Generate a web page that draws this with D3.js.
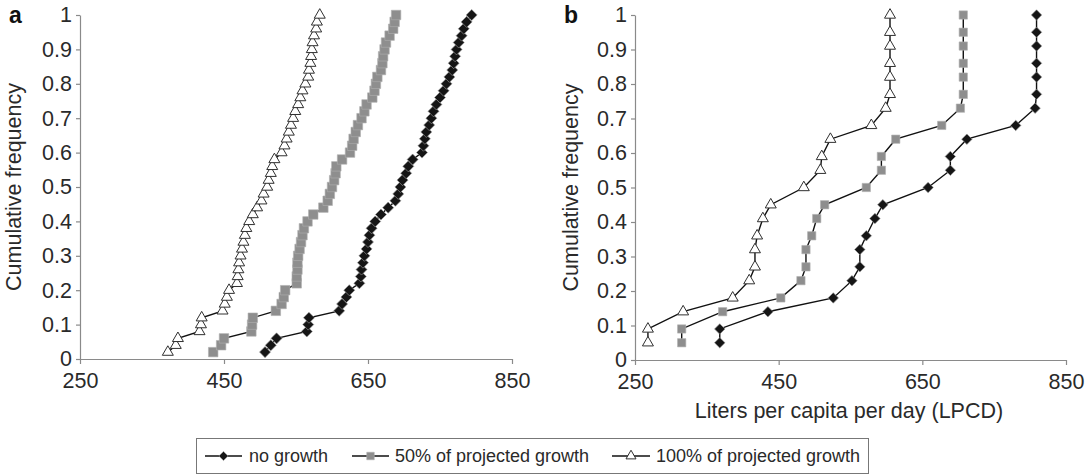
<!DOCTYPE html>
<html><head><meta charset="utf-8">
<script src="https://cdn.jsdelivr.net/npm/d3@7"></script>
<style>
html,body{margin:0;padding:0;background:#fff;}
svg{display:block;font-family:"Liberation Sans",Arial,sans-serif;}
</style></head>
<body><svg id="c" width="1092" height="475"></svg>
<script>
// ---- Data ----
const seriesNames = ["no growth", "50% of projected growth", "100% of projected growth"];
const xTicks = [250, 450, 650, 850];
const yTicks = [0, 0.1, 0.2, 0.3, 0.4, 0.5, 0.6, 0.7, 0.8, 0.9, 1];
const yTickLabels = ["0", "0.1", "0.2", "0.3", "0.4", "0.5", "0.6", "0.7", "0.8", "0.9", "1"];

// Panel a: cumulative frequencies
const freqA = [0.02,0.04,0.06,0.08,0.10,0.12,0.14,0.16,0.18,0.20,0.22,0.24,0.26,0.28,0.30,0.32,0.34,0.36,0.38,0.40,
  0.42,0.44,0.46,0.48,0.50,0.52,0.54,0.56,0.58,0.60,0.62,0.64,0.66,0.68,0.70,0.72,0.74,0.76,0.78,0.80,
  0.82,0.84,0.86,0.88,0.90,0.92,0.94,0.96,0.98,1.00];
const aNoGrowth = [507,515,523,565,567,568,610,614,620,624,638,640,641,643,645,648,650,652,655,660,
  668,678,688,692,695,698,703,706,712,725,727,729,731,735,738,741,745,750,755,759,
  763,767,769,771,773,776,780,783,787,794];
const aHalf = [435,446,450,488,489,490,522,530,533,535,551,551,552,552,553,555,557,559,561,566,
  574,588,594,597,600,603,605,606,614,625,628,630,633,636,641,645,648,656,659,661,
  663,668,670,671,673,675,680,685,687,689];
const aFull = [372,383,386,416,418,419,448,451,454,457,468,469,470,471,473,475,477,479,481,485,
  490,496,502,505,510,512,515,517,520,530,534,537,540,543,546,549,553,556,559,563,
  567,568,570,571,572,573,575,578,579,583];

// Panel b
const freqB = [0.05,0.09,0.14,0.18,0.23,0.27,0.32,0.36,0.41,0.45,0.50,0.55,0.59,0.64,0.68,0.73,0.77,0.82,0.86,0.91,0.95,1.00];
const bNoGrowth = [368,368,435,526,552,563,563,572,584,595,658,689,689,712,780,807,809,809,809,809,809,809];
const bHalf = [315,315,372,453,481,488,488,496,503,514,572,593,593,613,677,703,707,707,707,707,707,707];
const bFull = [268,268,317,386,409,417,417,420,428,439,485,508,510,522,579,599,605,605,605,605,605,605];

const xLabel = "Liters per capita per day (LPCD)";
const yLabel = "Cumulative frequency";

// ---- Drawing ----
const svg = d3.select("#c");
const axisColor = "#8a8a8a";
const textColor = "#2a2a2a";
const FS = 21.5;

const markerStyles = [
  {type: "diamond", fill: "#151515", stroke: "#9a9a9a", sw: 0.6},
  {type: "square", fill: "#8e8e8e", stroke: "#b0b0b0", sw: 0.6},
  {type: "triangle", fill: "#ffffff", stroke: "#303030", sw: 1}
];

function markerPath(type, s) {
  if (type === "triangle") return d3.symbol(d3.symbolTriangle, Math.sqrt(3) / 4 * s * s)();
  return d3.symbol(d3.symbolSquare, s * s)();
}

function drawMarker(g, type, cx, cy, s, st) {
  const p = g.append("path")
    .attr("d", markerPath(type, s))
    .attr("fill", st.fill).attr("stroke", st.stroke).attr("stroke-width", st.sw);
  if (type === "diamond") p.attr("transform", `translate(${cx},${cy}) rotate(45)`);
  else p.attr("transform", `translate(${cx},${cy})`);
}

function panel(opts) {
  const x = d3.scaleLinear().domain([250, 850]).range([opts.x0, opts.x1]);
  const y = d3.scaleLinear().domain([0, 1]).range([opts.y0, opts.y1]);
  const g = svg.append("g");

  const ya = g.append("g").attr("transform", `translate(${opts.x0},0)`)
    .call(d3.axisLeft(y).tickValues(yTicks).tickSize(4).tickSizeOuter(0)
      .tickFormat((d, i) => yTickLabels[i]));
  const xa = g.append("g").attr("transform", `translate(0,${opts.y0})`)
    .call(d3.axisBottom(x).tickValues(xTicks).tickSize(5).tickSizeOuter(0).tickFormat(d3.format("d")));
  [ya, xa].forEach(a => {
    a.attr("font-size", null).attr("font-family", null);
    a.select(".domain").attr("stroke", axisColor).attr("stroke-width", 1.2);
    a.selectAll(".tick line").attr("stroke", axisColor).attr("stroke-width", 1.2);
    a.selectAll(".tick text").attr("fill", textColor).style("font-size", FS + "px")
      .style("font-family", "Liberation Sans, Arial, sans-serif");
  });
  ya.selectAll(".tick text").attr("x", -8);
  xa.selectAll(".tick text").attr("y", 14);

  g.append("text").attr("transform", `translate(${opts.x0 - opts.titleOff},${(opts.y0 + opts.y1) / 2}) rotate(-90)`)
    .attr("text-anchor", "middle").style("font-size", FS + "px").attr("fill", textColor).text(yLabel);

  g.append("text").attr("x", opts.x0 - 71).attr("y", opts.y1 + 8)
    .style("font-size", "23px").attr("font-weight", "bold").attr("fill", "#111").text(opts.letter);

  const line = d3.line().x(d => x(d[0])).y(d => y(d[1]));
  [2, 1, 0].forEach(k => {
    const pts = opts.series[k].map((v, i) => [v, opts.freq[i]]);
    g.append("path").attr("d", line(pts)).attr("fill", "none")
      .attr("stroke", "#111").attr("stroke-width", 1.4);
    const mg = g.append("g");
    pts.forEach(p => drawMarker(mg, markerStyles[k].type, x(p[0]), y(p[1]), opts.sizes[k], markerStyles[k]));
  });
  return {x, y};
}

panel({x0: 80, x1: 512, y0: 359, y1: 15, letter: "a", freq: freqA, titleOff: 59,
  series: [aNoGrowth, aHalf, aFull], sizes: [7.8, 9.5, 11]});
panel({x0: 635, x1: 1066, y0: 360, y1: 15, letter: "b", freq: freqB, titleOff: 57,
  series: [bNoGrowth, bHalf, bFull], sizes: [7.4, 8.3, 11]});

svg.append("text").attr("x", 849).attr("y", 418).attr("text-anchor", "middle")
  .style("font-size", FS + "px").attr("fill", textColor).text(xLabel);

// Legend
const lg = svg.append("g");
lg.append("rect").attr("x", 196.5).attr("y", 438.5).attr("width", 672).attr("height", 35)
  .attr("fill", "none").attr("stroke", "#777").attr("stroke-width", 1);
const legLine = [[205, 242], [352, 389], [612, 650]];
const legText = [249, 395, 656];
seriesNames.forEach((name, k) => {
  const [a, b] = legLine[k];
  lg.append("line").attr("x1", a).attr("x2", b).attr("y1", 456).attr("y2", 456)
    .attr("stroke", "#111").attr("stroke-width", 1.4);
  drawMarker(lg, markerStyles[k].type, (a + b) / 2, 456, [6.5, 7.5, 10][k], markerStyles[k]);
  lg.append("text").attr("x", legText[k]).attr("y", 462).style("font-size", "18px")
    .attr("fill", textColor).text(name);
});
</script></body></html>
